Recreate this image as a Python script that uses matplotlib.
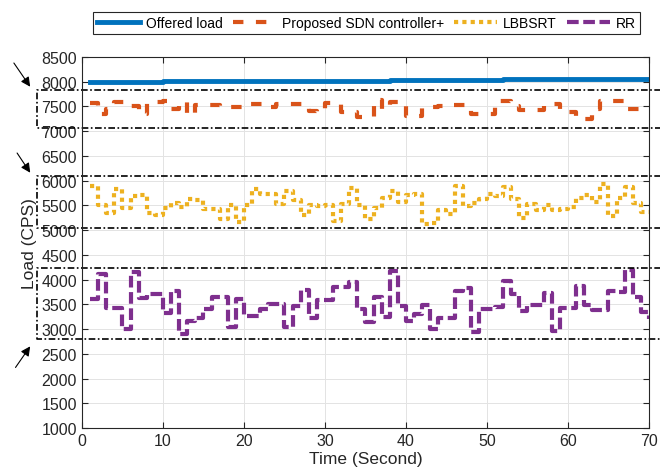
import numpy as np
import matplotlib
matplotlib.use('Agg')
import matplotlib.pyplot as plt

plt.rcParams['font.family'] = ['Liberation Sans', 'DejaVu Sans']

# Dados (um valor por segundo, t = 1..70)
t = np.arange(1, 71)

offered = [7990]*9 + [8005]*14 + [8020]*14 + [8035]*14 + [8050]*14 + [8065]*5

sdn = [7580, 7350, 7450, 7600, 7600, 7510, 7350, 7590, 7590, 7610,
       7450, 7600, 7330, 7520, 7520, 7520, 7480, 7480, 7480, 7540,
       7540, 7540, 7480, 7550, 7550, 7540, 7540, 7410, 7390, 7580,
       7580, 7380, 7380, 7280, 7280, 7630, 7450, 7600, 7600, 7310,
       7310, 7480, 7480, 7500, 7530, 7530, 7520, 7350, 7350, 7350,
       7620, 7620, 7500, 7420, 7420, 7430, 7500, 7550, 7380, 7380,
       7250, 7250, 7450, 7620, 7620, 7620, 7440, 7440, 7440, 7440]

lbbsrt = [5900, 5500, 5340, 5830, 5450, 5690, 5720, 5350, 5300, 5450,
          5550, 5460, 5620, 5600, 5430, 5430, 5230, 5500, 5160, 5500,
          5840, 5730, 5740, 5530, 5800, 5600, 5310, 5500, 5480, 5500,
          5190, 5520, 5860, 5500, 5220, 5440, 5640, 5790, 5560, 5720,
          5740, 5120, 5140, 5400, 5320, 5900, 5480, 5550, 5620, 5730,
          5690, 5880, 5620, 5250, 5520, 5400, 5500, 5400, 5430, 5470,
          5650, 5720, 5560, 5940, 5280, 5640, 5880, 5550, 5360, 5360]

rr = [3600, 4110, 3430, 3430, 3000, 4160, 3620, 3710, 3710, 3330,
      3760, 2900, 3170, 3220, 3400, 3640, 3640, 3040, 3600, 3270,
      3270, 3400, 3510, 3510, 3040, 3470, 3780, 3220, 3580, 3580,
      3850, 3850, 3960, 3410, 3140, 3640, 3240, 4170, 3460, 3170,
      3310, 3480, 3000, 3220, 3220, 3760, 3840, 2950, 3410, 3410,
      3440, 3980, 3710, 3370, 3490, 3490, 3730, 2970, 3420, 3420,
      3870, 3490, 3390, 3390, 3760, 3740, 4200, 3640, 3340, 3200]

# Caixas tracejadas (limites inferior, superior)
boxes = [(7070, 7840), (5040, 6090), (2790, 4240)]
arrows = [((-8.6, 8425), (-6.2, 7853)),
          ((-8.2, 6606), (-6.2, 6114)),
          ((-8.4, 2178), (-6.2, 2697))]

fig = plt.figure(figsize=(6.6, 4.77), dpi=100)
ax = fig.add_axes([0.1242, 0.1006, 0.8591, 0.7778])

ax.step(t, offered, where='post', color='#0072BD', lw=3.5, label='Offered load')
l1, = ax.step(t, sdn, where='post', color='#D95319', lw=3,
              label='Proposed SDN controller+')
l1.set_dashes([2.5, 3.0])
l2, = ax.step(t, lbbsrt, where='post', color='#EDB120', lw=3, label='LBBSRT')
l2.set_dashes([1, 1])
l3, = ax.step(t, rr, where='post', color='#7E2F8E', lw=3, label='RR')
l3.set_dashes([2.8, 1.1])
for l in (l1, l2, l3):
    l.set_dash_capstyle('butt')

# Caixas e setas
for lo, hi in boxes:
    ax.plot([72, -5.5, -5.5, 72], [hi, hi, lo, lo], color='k', lw=1.2,
            ls=(0, (4, 1.5, 1, 1.5)), clip_on=False)
for tail, head in arrows:
    ax.annotate('', xy=head, xytext=tail, annotation_clip=False,
                arrowprops=dict(arrowstyle='-|>', color='k', lw=0.8,
                                mutation_scale=14))

ax.set_xlim(0, 70)
ax.set_ylim(1000, 8500)
ax.set_xticks(np.arange(0, 71, 10))
ax.set_yticks(np.arange(1000, 8501, 500))
ax.grid(True, color='#e3e3e3', lw=0.7)
ax.set_axisbelow(True)
ax.tick_params(direction='in', top=True, right=True, labelsize=11.5,
               colors='#262626', length=4)
for s in ax.spines.values():
    s.set_color('#262626')
    s.set_linewidth(0.8)

ax.set_xlabel('Time (Second)', fontsize=12.5, color='#262626', labelpad=2)
ax.set_ylabel('Load (CPS)', fontsize=12.5, color='#262626', labelpad=3)

leg = fig.legend(handles=ax.get_lines()[:4], loc='upper left',
                 bbox_to_anchor=(0.141, 0.973), ncol=4, fontsize=10,
                 handlelength=3.1, handletextpad=0.4, columnspacing=0.75,
                 borderpad=0.3, borderaxespad=0, fancybox=False,
                 edgecolor='#262626', framealpha=1)
leg.get_frame().set_linewidth(0.8)

fig.savefig('out.png', dpi=100)
